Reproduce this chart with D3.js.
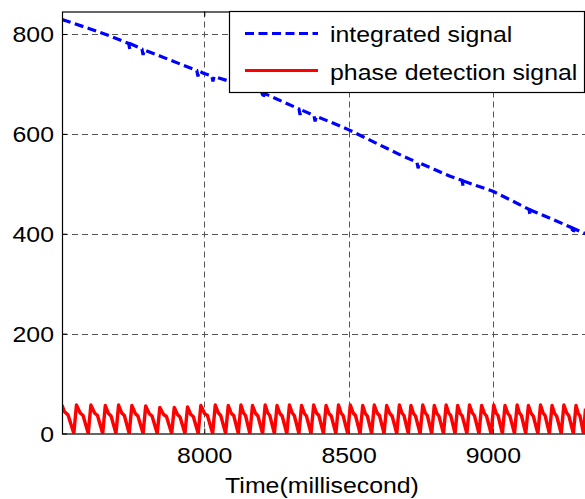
<!DOCTYPE html>
<html>
<head>
<meta charset="utf-8">
<script src="https://cdn.jsdelivr.net/npm/d3@7"></script>
<style>
  html, body { margin: 0; padding: 0; background: #fff; }
  svg { display: block; }
  text { font-family: "Liberation Sans", Arial, Helvetica, sans-serif; fill: #000; }
</style>
</head>
<body>
<svg id="chart" width="585" height="499"></svg>
<script>
// Integrated signal: [time (ms), value]
const integratedSignal = [
  [7507, 829], [7600, 811], [7673, 796], [7738, 781], [7742, 769], [7746, 780],
  [7784, 770], [7788, 758], [7792, 768], [7846, 756], [7920, 739], [7974, 727],
  [7978, 715], [7982, 726], [7995, 722], [8026, 716], [8030, 705], [8034, 715],
  [8100, 703], [8193, 685], [8200, 683], [8204, 671], [8208, 681], [8270, 665],
  [8328, 650], [8332, 638], [8336, 648], [8380, 637], [8384, 625], [8388, 635],
  [8440, 623], [8501, 608], [8590, 583], [8679, 558], [8737, 543], [8741, 531],
  [8745, 542], [8800, 528], [8852, 515], [8893, 507], [8897, 495], [8901, 505],
  [8950, 495], [9000, 485], [9070, 465], [9125, 449], [9129, 437], [9133, 447],
  [9140, 445], [9210, 428], [9274, 412], [9278, 400], [9282, 410], [9313, 402],
  [9321, 400]
];

// Phase detection signal vertices: [time (ms), value]
const phaseSignal = [
  [7507, 57], [7515, 44], [7528, 37], [7548, 0],
  [7557, 57], [7570, 41], [7580, 36], [7598, 0],
  [7607, 57], [7620, 41], [7630, 36], [7648, 0],
  [7657, 56], [7668, 40], [7677, 35], [7694, 0],
  [7703, 57], [7714, 41], [7723, 36], [7740, 0],
  [7749, 56], [7761, 40], [7770, 35], [7788, 0],
  [7797, 55], [7809, 40], [7819, 35], [7837, 0],
  [7846, 52], [7859, 38], [7869, 34], [7887, 0],
  [7896, 52], [7907, 38], [7916, 33], [7933, 0],
  [7942, 53], [7953, 38], [7962, 34], [7979, 0],
  [7988, 56], [8001, 40], [8011, 36], [8029, 0],
  [8038, 57], [8049, 41], [8057, 36], [8074, 0],
  [8083, 56], [8094, 40], [8102, 36], [8118, 0],
  [8127, 57], [8136, 41], [8143, 36], [8158, 0],
  [8167, 56], [8178, 40], [8186, 35], [8202, 0],
  [8211, 57], [8220, 41], [8227, 36], [8243, 0],
  [8252, 56], [8262, 40], [8270, 35], [8286, 0],
  [8295, 57], [8305, 41], [8312, 36], [8328, 0],
  [8337, 56], [8347, 40], [8354, 35], [8370, 0],
  [8379, 57], [8389, 41], [8397, 36], [8413, 0],
  [8422, 56], [8432, 40], [8440, 35], [8456, 0],
  [8465, 57], [8474, 41], [8481, 36], [8497, 0],
  [8506, 57], [8516, 41], [8524, 36], [8540, 0],
  [8549, 56], [8558, 40], [8565, 35], [8580, 0],
  [8589, 57], [8599, 41], [8607, 36], [8623, 0],
  [8632, 56], [8643, 40], [8651, 35], [8667, 0],
  [8676, 57], [8685, 41], [8692, 36], [8707, 0],
  [8716, 56], [8725, 40], [8732, 35], [8748, 0],
  [8757, 57], [8766, 41], [8773, 36], [8788, 0],
  [8797, 56], [8806, 40], [8813, 35], [8829, 0],
  [8838, 57], [8847, 41], [8854, 36], [8869, 0],
  [8878, 56], [8887, 40], [8894, 35], [8910, 0],
  [8919, 57], [8929, 41], [8936, 36], [8952, 0],
  [8961, 56], [8971, 40], [8978, 35], [8994, 0],
  [9003, 57], [9011, 41], [9018, 36], [9033, 0],
  [9042, 56], [9052, 40], [9059, 35], [9075, 0],
  [9084, 57], [9092, 41], [9099, 36], [9114, 0],
  [9123, 56], [9133, 40], [9140, 35], [9156, 0],
  [9165, 57], [9174, 41], [9181, 36], [9196, 0],
  [9205, 56], [9214, 40], [9221, 35], [9237, 0],
  [9246, 57], [9256, 41], [9263, 36], [9279, 0],
  [9288, 56], [9296, 40], [9302, 35], [9314, 0],
  [9321, 50]
];

const xTicks = [8000, 8500, 9000];
const yTicks = [0, 200, 400, 600, 800];
const xDomain = [7507, 9321];
const yDomain = [0, 845];
const seriesNames = ["integrated signal", "phase detection signal"];
const xTitle = "Time(millisecond)";

const FONT = 22;       // label font size
const STRETCH = 1.13;  // horizontal glyph stretch of all labels

const svg = d3.select("#chart");
const plot = { left: 62, top: 11.5, right: 585.5, bottom: 433.5 };

const x = d3.scaleLinear().domain(xDomain).range([plot.left, plot.right]);
const y = d3.scaleLinear().domain(yDomain).range([plot.bottom, plot.top]);

// Place a text element at (tx, ty) with horizontally widened glyphs
function stretchText(sel, tx, ty) {
  sel.attr("x", 0).attr("y", 0)
     .attr("transform", `translate(${tx},${ty}) scale(${STRETCH},1)`);
}

svg.append("defs").append("clipPath").attr("id", "plotClip")
  .append("rect")
  .attr("x", plot.left).attr("y", plot.top)
  .attr("width", plot.right - plot.left).attr("height", plot.bottom - plot.top);

// Dashed grid
const grid = svg.append("g")
  .attr("stroke", "#555").attr("stroke-width", 1).attr("stroke-dasharray", "6,4");
grid.selectAll("line.h").data(yTicks.filter(v => v > 0)).join("line")
  .attr("x1", plot.left).attr("x2", plot.right)
  .attr("y1", d => Math.round(y(d)) + 0.5).attr("y2", d => Math.round(y(d)) + 0.5);
grid.selectAll("line.v").data(xTicks).join("line")
  .attr("y1", plot.top).attr("y2", plot.bottom)
  .attr("x1", d => Math.round(x(d)) + 0.5).attr("x2", d => Math.round(x(d)) + 0.5);

// Axes
const xAxisBottom = d3.axisBottom(x).tickValues(xTicks).tickSize(-5).tickFormat(d3.format("d"));
const xAxisTop = d3.axisTop(x).tickValues(xTicks).tickSize(-5).tickFormat("");
const yAxisLeft = d3.axisLeft(y).tickValues(yTicks).tickSize(-5).tickFormat(d3.format("d"));

function styleAxis(g) {
  g.select(".domain").remove();
  g.selectAll(".tick line").attr("stroke", "#000");
  g.selectAll(".tick text").attr("font-size", FONT)
    .attr("font-family", "Liberation Sans, Arial, sans-serif").attr("dy", null);
}

svg.append("g").attr("transform", `translate(0,${plot.bottom})`).call(xAxisBottom).call(styleAxis)
  .selectAll(".tick text").each(function () { stretchText(d3.select(this), 0, 29.5); });
svg.append("g").attr("transform", `translate(0,${plot.top})`).call(xAxisTop).call(styleAxis);
svg.append("g").attr("transform", `translate(${plot.left},0)`).call(yAxisLeft).call(styleAxis)
  .selectAll(".tick text").each(function () { stretchText(d3.select(this), -8, 8); });

// Data lines
const line = d3.line().x(d => x(d[0])).y(d => y(d[1]));
const data = svg.append("g").attr("clip-path", "url(#plotClip)");
data.append("path").datum(phaseSignal)
  .attr("fill", "none").attr("stroke", "#ff0000").attr("stroke-width", 3.4)
  .attr("stroke-linejoin", "round").attr("d", line);
data.append("path").datum(integratedSignal)
  .attr("fill", "none").attr("stroke", "#0000ff").attr("stroke-width", 3.2)
  .attr("stroke-dasharray", "9,4.5").attr("d", line);

// Axis box
svg.append("rect")
  .attr("x", plot.left + 0.5).attr("y", plot.top + 0.5)
  .attr("width", plot.right - plot.left).attr("height", plot.bottom - plot.top)
  .attr("fill", "none").attr("stroke", "#000").attr("stroke-width", 1.2);

// Axis title
svg.append("text").attr("text-anchor", "middle").attr("font-size", FONT).text(xTitle)
  .call(stretchText, 322, 493);

// Legend
const legend = svg.append("g");
legend.append("rect").attr("x", 229.5).attr("y", 11.5).attr("width", 355).attr("height", 81)
  .attr("fill", "#fff").attr("stroke", "#000").attr("stroke-width", 1.2);
const legendItems = [
  { name: seriesNames[0], color: "#0000ff", dash: "9,4.5", ly: 33.5, ty: 42 },
  { name: seriesNames[1], color: "#ff0000", dash: null, ly: 70.5, ty: 80 }
];
legendItems.forEach(it => {
  legend.append("line").attr("x1", 245).attr("x2", 318).attr("y1", it.ly).attr("y2", it.ly)
    .attr("stroke", it.color).attr("stroke-width", 3).attr("stroke-dasharray", it.dash);
  legend.append("text").attr("font-size", FONT).text(it.name).call(stretchText, 330, it.ty);
});
</script>
</body>
</html>
